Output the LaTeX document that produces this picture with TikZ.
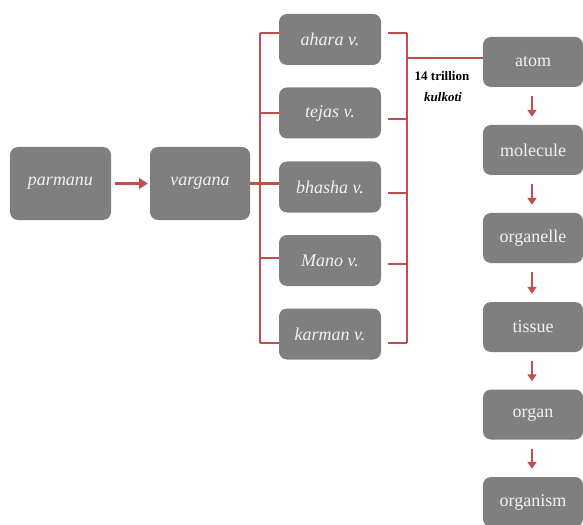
\documentclass[tikz,border=0pt]{standalone}
\usepackage{fontspec}
\setmainfont{Liberation Serif}
\usetikzlibrary{calc,arrows.meta}
\definecolor{boxgray}{HTML}{7F7F7F}
\definecolor{linered}{HTML}{C0504D}
\definecolor{boxtext}{HTML}{F2F2F2}
\tikzset{
  gbox/.style={draw=none, fill=boxgray, rounded corners=8bp, text=boxtext, inner sep=0pt,
    font=\fontsize{18bp}{20bp}\selectfont},
  bigbox/.style={gbox, minimum width=101bp, minimum height=73bp, font=\fontsize{18bp}{20bp}\selectfont\itshape},
  midbox/.style={gbox, minimum width=102bp, minimum height=51bp, font=\fontsize{18bp}{20bp}\selectfont\itshape},
  rbox/.style={gbox, minimum width=100bp, minimum height=50bp},
  rline/.style={draw=linered, line width=2.4bp},
  rarrow/.style={rline, -{Triangle[length=9bp,width=11bp]}},
  darrow/.style={draw=linered, line width=2bp, -{Triangle[length=7bp,width=9bp]}}
}
\begin{document}
\begin{tikzpicture}[x=1bp,y=-1bp]
\useasboundingbox (0,0) rectangle (583,525);
% left
\node[bigbox] (par) at (60.5,183.5) {parmanu};
\node[bigbox, minimum width=100bp] (var) at (200,183.5) {vargana};
% middle
\node[midbox] (aha) at (330,39.5) {ahara v.};
\node[midbox] (tej) at (330,113) {tejas v.};
\node[midbox] (bha) at (330,187) {bhasha v.};
\node[midbox] (man) at (330,260.5) {Mano v.};
\node[midbox] (kar) at (330,334) {karman v.};
% right column
\node[rbox] (atom) at (533,62) {atom};
\node[rbox] (mol) at (533,150) {molecule};
\node[rbox] (orgl) at (533,238) {organelle};
\node[rbox] (tis) at (533,327) {tissue};
\node[rbox] (orgn) at (533,414.5) {organ};
\node[rbox] (orgm) at (533,502) {organism};
% label
\node[font=\fontsize{13bp}{15bp}\selectfont\bfseries, inner sep=0pt] (lab1) at (442,76) {14 trillion};
\node[font=\fontsize{13bp}{15bp}\selectfont\bfseries\itshape, inner sep=0pt] (lab2) at (443,97) {kulkoti};
% coordinates
\coordinate (lt) at (260,33);
\coordinate (lb) at (260,343);
\coordinate (rt) at (407,33);
\coordinate (rb) at (407,343);
% arrow parmanu -> vargana
\draw[rarrow] ($(par.east)+(4,0)$) -- ($(var.west)+(-2,0)$);
% left bracket
\draw[rline] (lt) -- (lb);
\draw[rline] (var.east) -- (bha.west |- var.east);
\draw[rline] (lt) -- (aha.west |- lt);
\draw[rline] (tej.west -| lt) -- (tej.west);
\draw[rline] ($(man.west -| lt)+(0,-2.5)$) -- ($(man.west)+(0,-2.5)$);
\draw[rline] (lb) -- (kar.west |- lb);
% right bracket
\draw[rline] (rt) -- (rb);
\draw[rline] ($(aha.east |- rt)+(7,0)$) -- (rt);
\draw[rline] ($(tej.east)+(7,6)$) -- ($(tej.east -| rt)+(0,6)$);
\draw[rline] ($(bha.east)+(7,6)$) -- ($(bha.east -| rt)+(0,6)$);
\draw[rline] ($(man.east)+(7,3.5)$) -- ($(man.east -| rt)+(0,3.5)$);
\draw[rline] ($(kar.east |- rb)+(7,0)$) -- (rb);
\draw[rline] ($(rt)+(0,25)$) -- ($(atom.west)+(0,-4)$);
% right arrows
\draw[darrow] ($(atom.south)+(-1,9)$) -- ($(mol.north)+(-1,-8)$);
\draw[darrow] ($(mol.south)+(-1,9)$) -- ($(orgl.north)+(-1,-8)$);
\draw[darrow] ($(orgl.south)+(-1,9)$) -- ($(tis.north)+(-1,-8)$);
\draw[darrow] ($(tis.south)+(-1,9)$) -- ($(orgn.north)+(-1,-8)$);
\draw[darrow] ($(orgn.south)+(-1,9)$) -- ($(orgm.north)+(-1,-8)$);
\end{tikzpicture}
\end{document}
